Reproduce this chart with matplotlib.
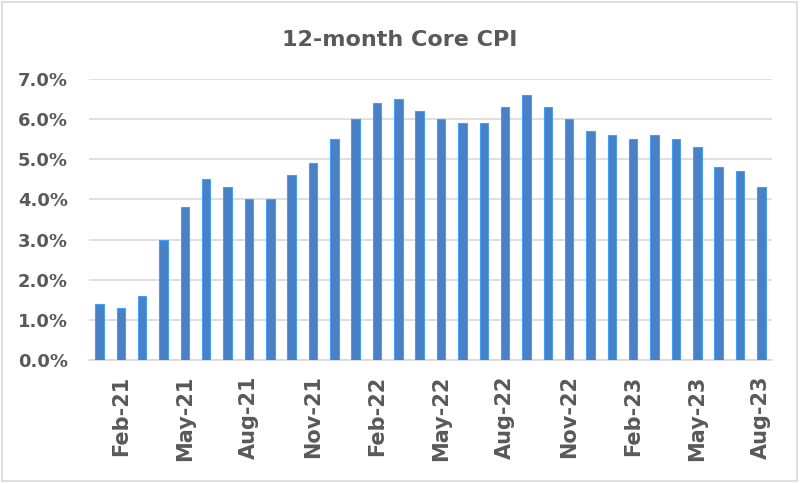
import numpy as np
import matplotlib
matplotlib.use('Agg')
import matplotlib.pyplot as plt
from matplotlib.patches import Rectangle

months = ['Jan-21', 'Feb-21', 'Mar-21', 'Apr-21', 'May-21', 'Jun-21', 'Jul-21', 'Aug-21',
          'Sep-21', 'Oct-21', 'Nov-21', 'Dec-21', 'Jan-22', 'Feb-22', 'Mar-22', 'Apr-22',
          'May-22', 'Jun-22', 'Jul-22', 'Aug-22', 'Sep-22', 'Oct-22', 'Nov-22', 'Dec-22',
          'Jan-23', 'Feb-23', 'Mar-23', 'Apr-23', 'May-23', 'Jun-23', 'Jul-23', 'Aug-23']
core_cpi = [1.4, 1.3, 1.6, 3.0, 3.8, 4.5, 4.3, 4.0, 4.0, 4.6, 4.9, 5.5,
            6.0, 6.4, 6.5, 6.2, 6.0, 5.9, 5.9, 6.3, 6.6, 6.3, 6.0, 5.7,
            5.6, 5.5, 5.6, 5.5, 5.3, 4.8, 4.7, 4.3]
yticks = [0, 1, 2, 3, 4, 5, 6, 7]

txt = '#595959'
plt.rcParams['font.family'] = ['DejaVu Sans']

fig = plt.figure(figsize=(8, 4.83), dpi=100)
ax = fig.add_axes([0.111, 0.2547, 0.854, 0.5817])

x = np.arange(len(months))
ax.bar(x, core_cpi, width=0.4, color='#4a80c4', edgecolor='#42a0ff', linewidth=0.8, zorder=3)

ax.set_xlim(-0.5, len(months) - 0.5)
ax.set_ylim(0, 7)
ax.set_yticks(yticks)
ax.set_yticklabels([f'{v:.1f}%' for v in yticks], fontsize=13, fontweight='bold', color=txt)
ax.set_xticks(x[1::3])
ax.set_xticklabels(months[1::3], rotation=90, fontsize=15, fontweight='bold', color=txt)
ax.tick_params(length=0)
ax.tick_params(axis='y', pad=15)
ax.tick_params(axis='x', pad=11)
ax.grid(axis='y', color='#d9d9d9', linewidth=1.2, zorder=0)
for s in ['top', 'right', 'left']:
    ax.spines[s].set_visible(False)
ax.spines['bottom'].set_color('#d9d9d9')
ax.spines['bottom'].set_linewidth(1.2)

fig.text(0.5, 0.917, '12-month Core CPI', ha='center', va='center',
         fontsize=16, fontweight='bold', color=txt)
fig.patches.append(Rectangle((0.003, 0.005), 0.993, 0.99, transform=fig.transFigure,
                             fill=False, edgecolor='#d9d9d9', linewidth=1.2))

fig.savefig('out.png', dpi=100)
